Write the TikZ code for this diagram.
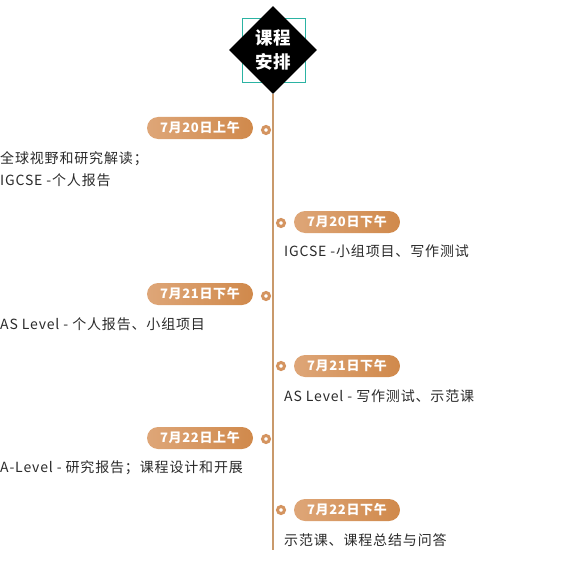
\documentclass[tikz,border=0pt]{standalone}
\usepackage{fontspec}
\setmainfont{Noto Sans CJK SC}
\newfontfamily\descfont[LetterSpace=6]{Noto Sans CJK SC}
\newfontfamily\pillfont[LetterSpace=5]{Noto Sans CJK SC}
\usetikzlibrary{shapes.geometric}
\definecolor{lineC}{HTML}{C9996B}
\definecolor{pillL}{HTML}{DEA678}
\definecolor{pillR}{HTML}{D0894B}
\definecolor{dotC}{HTML}{D49460}
\definecolor{teal}{HTML}{2BB3A3}
\definecolor{txt}{HTML}{2A2A2A}
\tikzset{
  pill/.style={rounded corners=11pt, minimum width=106pt, minimum height=22pt, inner sep=0pt,
    left color=pillL, right color=pillR, draw=none, text=white, font=\pillfont\fontsize{13}{14}\selectfont\bfseries},
  dot/.style={circle, draw=dotC, line width=3pt, fill=white, minimum size=7pt, inner sep=0pt},
  desc/.style={text=txt, font=\descfont\fontsize{14}{22}\selectfont, inner sep=0pt, align=left},
}
\begin{document}
\begin{tikzpicture}[x=1pt,y=-1pt]
\useasboundingbox (0,0) rectangle (562,567);
% teal square and diamond
\draw[teal, line width=0.8pt] (242,18) rectangle (305,82);
\node[diamond, fill=black, minimum width=88pt, minimum height=88pt, inner sep=0pt] (top) at (273,50) {};
\node[text=white, font=\pillfont\fontsize{17.5}{24}\selectfont\bfseries, align=center] (toptxt) at (273,50) {课程\\安排};
\coordinate (bot) at (273,550);
\draw[lineC, line width=1.3pt] (top.south) -- (bot);
% row 1
\node[pill] (p1) at (200,128) {7月20日上午};
\node[dot] (d1) at (266,130) {};
\node[desc, anchor=north west] (t1) at (0,151) {全球视野和研究解读；\\IGCSE -个人报告};
% row 2
\node[pill] (p2) at (347,222) {7月20日下午};
\node[dot] (d2) at (281,223) {};
\node[desc, anchor=west] (t2) at (284,251) {IGCSE -小组项目、写作测试};
% row 3
\node[pill] (p3) at (200,294) {7月21日下午};
\node[dot] (d3) at (266,296) {};
\node[desc, anchor=west] (t3) at (0,324) {AS Level - 个人报告、小组项目};
% row 4
\node[pill] (p4) at (347,366) {7月21日下午};
\node[dot] (d4) at (281,366) {};
\node[desc, anchor=west] (t4) at (284,396) {AS Level - 写作测试、示范课};
% row 5
\node[pill] (p5) at (200,438) {7月22日上午};
\node[dot] (d5) at (266,439) {};
\node[desc, anchor=west] (t5) at (0,468) {A-Level - 研究报告；课程设计和开展};
% row 6
\node[pill] (p6) at (347,510) {7月22日下午};
\node[dot] (d6) at (281,510) {};
\node[desc, anchor=west] (t6) at (284,540) {示范课、课程总结与问答};
\end{tikzpicture}
\end{document}
